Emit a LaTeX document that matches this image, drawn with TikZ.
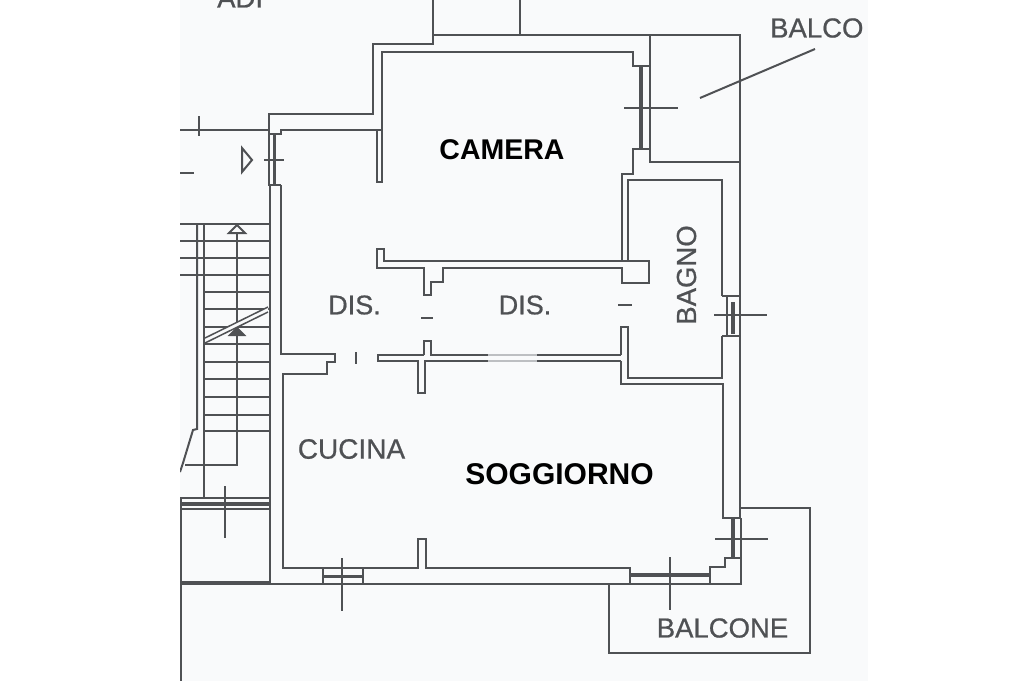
\documentclass[tikz,border=0pt]{standalone}
\usepackage{fontspec}
\setmainfont{Liberation Sans}
\newfontfamily\greyfont[FakeBold=0.7]{Liberation Sans}
\definecolor{ink}{HTML}{4F5154}
\definecolor{paper}{HTML}{F9FAFB}
\definecolor{faint}{HTML}{BDBFC2}
\tikzset{
  wall/.style={draw=ink,line width=2pt,line join=miter},
  thin wall/.style={draw=ink,line width=1.5pt},
  faintwall/.style={draw=faint,line width=1.5pt},
  glass/.style={draw=ink,line width=4pt},
  rung/.style={draw=ink,line width=2pt},
  mark line/.style={draw=ink,line width=2pt},
  boldlabel/.style={text=black,font=\bfseries\fontsize{28.5}{28}\selectfont,inner sep=0pt},
  greylabel/.style={text=ink,font=\greyfont\fontsize{27.5}{28}\selectfont,inner sep=0pt}
}
\begin{document}
\begin{tikzpicture}[x=1pt,y=-1pt]
\useasboundingbox (0,0) rectangle (1024,681);
\fill[white] (0,0) rectangle (1024,681);
\fill[paper] (180,0) rectangle (868,681);
\begin{scope}
\clip (180,0) rectangle (868,681);
% outer outline, north side
\draw[wall] (433,0) -- (433,44) -- (373,44) -- (373,114) -- (269,114) -- (269,185) -- (270,185) -- (270,584);
\draw[wall] (433,35) -- (740,35);
\draw[wall] (520,0) -- (520,35);
\draw[wall] (740,34) -- (740,518);
% camera
\draw[wall] (180,130) -- (269,130);
\draw[wall] (270,134) -- (281,134) -- (281,130) -- (382,130);
\draw[wall] (270,185) -- (281,185);
\draw[wall] (377,130) -- (377,182) -- (382,182) -- (382,52) -- (633,52) -- (633,66) -- (650,66);
\draw[wall] (650,35) -- (650,162) -- (740,162);
\draw[wall] (650,149) -- (633,149) -- (633,174) -- (622,174) -- (622,261);
% camera windows
\draw[glass] (641,66) -- (641,149);
\draw[glass,line width=3pt] (274,134) -- (274,185);
\draw[mark line] (624,108) -- (678,108);
\draw[mark line] (264,160) -- (284,160);
% bagno
\draw[wall] (628,261) -- (628,180) -- (722,180) -- (722,296);
\draw[wall] (722,336) -- (722,378) -- (628,378) -- (628,327) -- (621,327) -- (621,355);
\draw[wall] (621,361) -- (621,384) -- (723,384) -- (723,518) -- (740,518);
\draw[wall] (722,296) -- (740,296);
\draw[wall] (722,336) -- (740,336);
\draw[thin wall] (727,296) -- (727,336);
\draw[glass] (733,302) -- (733,334);
\draw[mark line] (714,315) -- (767,315);
% corridor wall, upper
\draw[wall] (622,261) -- (384,261) -- (384,249) -- (377,249) -- (377,268) -- (424,268) -- (424,295) -- (431,295) -- (431,282) -- (443,282) -- (443,268) -- (622,268) -- (622,283) -- (649,283) -- (649,261) -- (622,261);
% corridor wall, lower
\draw[wall] (424,355) -- (378,355) -- (378,361) -- (418,361) -- (418,393) -- (425,393) -- (425,361) -- (488,361);
\draw[wall] (424,355) -- (424,341) -- (431,341) -- (431,355) -- (488,355);
\draw[faintwall] (488,355) -- (537,355);
\draw[faintwall] (488,361) -- (537,361);
\draw[wall] (537,355) -- (621,355);
\draw[wall] (537,361) -- (621,361);
% door marks
\draw[mark line] (356,352) -- (356,364);
\draw[mark line] (421,318) -- (433,318);
\draw[mark line] (618,305) -- (632,305);
% cucina
\draw[wall] (281,185) -- (281,354) -- (335,354) -- (335,362) -- (327,362) -- (327,374) -- (283,374) -- (283,568) -- (418,568) -- (418,539) -- (426,539) -- (426,568) -- (630,568) -- (630,584);
\draw[wall] (270,584) -- (741,584) -- (741,518);
\draw[thin wall] (323,568) -- (323,584);
\draw[thin wall] (363,568) -- (363,584);
\draw[glass,line width=3pt] (323,576) -- (363,576);
\draw[mark line] (342,558) -- (342,611);
% south-east corner and windows
\draw[glass] (630,575) -- (710,575);
\draw[wall] (710,584) -- (710,567) -- (725,567) -- (725,558) -- (741,558);
\draw[glass] (733,518) -- (733,558);
\draw[mark line] (670,557) -- (670,610);
\draw[mark line] (715,539) -- (768,539);
% balconies
\draw[wall] (741,508) -- (810,508) -- (810,653) -- (609,653) -- (609,585);
\draw[mark line] (700,98) -- (815,49);
% stairs
\foreach \yy in {224,241,258,275}{\draw[rung] (180,\yy) -- (269,\yy);}
\foreach \yy in {292,309,327,344,362,379,397,415,431}{\draw[rung] (204,\yy) -- (269,\yy);}
\draw[wall] (197,224) -- (197,429) -- (193,430) -- (183,463) -- (180,472);
\draw[wall] (204,224) -- (204,497);
\draw[wall] (237,232) -- (237,465) -- (185,465);
\draw[wall,fill=paper] (237,225) -- (229,233) -- (245,233) -- cycle;
\draw[wall,fill=ink] (237,328) -- (230,335) -- (244,335) -- cycle;
\fill[paper] (205,338) -- (268,307) -- (268,312) -- (205,343) -- cycle;
\draw[thin wall] (205,338) -- (268,307);
\draw[thin wall] (205,343) -- (268,312);
% stairwell landing
\draw[wall] (180,498) -- (270,498);
\draw[glass] (180,503.5) -- (270,503.5);
\draw[wall] (180,509) -- (270,509);
\draw[draw=ink,line width=3.5pt] (180,583) -- (270,583);
\draw[wall] (181,497) -- (181,681);
\draw[mark line] (225,486) -- (225,538);
% left side marks
\draw[mark line] (199,116) -- (199,136);
\draw[mark line] (180,173) -- (194,173);
\draw[wall] (242,148) -- (252,160) -- (242,172) -- cycle;
% labels
\node[boldlabel] (camera) at (502,150) {CAMERA};
\node[boldlabel,font=\bfseries\fontsize{30}{30}\selectfont] (soggiorno) at (559.5,474) {SOGGIORNO};
\node[greylabel,font=\greyfont\fontsize{27}{28}\selectfont] (dis1) at (354.5,305) {DIS.};
\node[greylabel,font=\greyfont\fontsize{27}{28}\selectfont] (dis2) at (525,305) {DIS.};
\node[greylabel,font=\greyfont\fontsize{28}{28}\selectfont] (cucina) at (351.5,449) {CUCINA};
\node[greylabel,rotate=90] (bagno) at (686.5,275) {BAGNO};
\node[greylabel] (balcone) at (722.5,628) {BALCONE};
\node[greylabel,anchor=west] (balco) at (770,28) {BALCO};
\node[greylabel,anchor=west] (adi) at (217,-2) {ADI};
\end{scope}
\end{tikzpicture}
\end{document}
